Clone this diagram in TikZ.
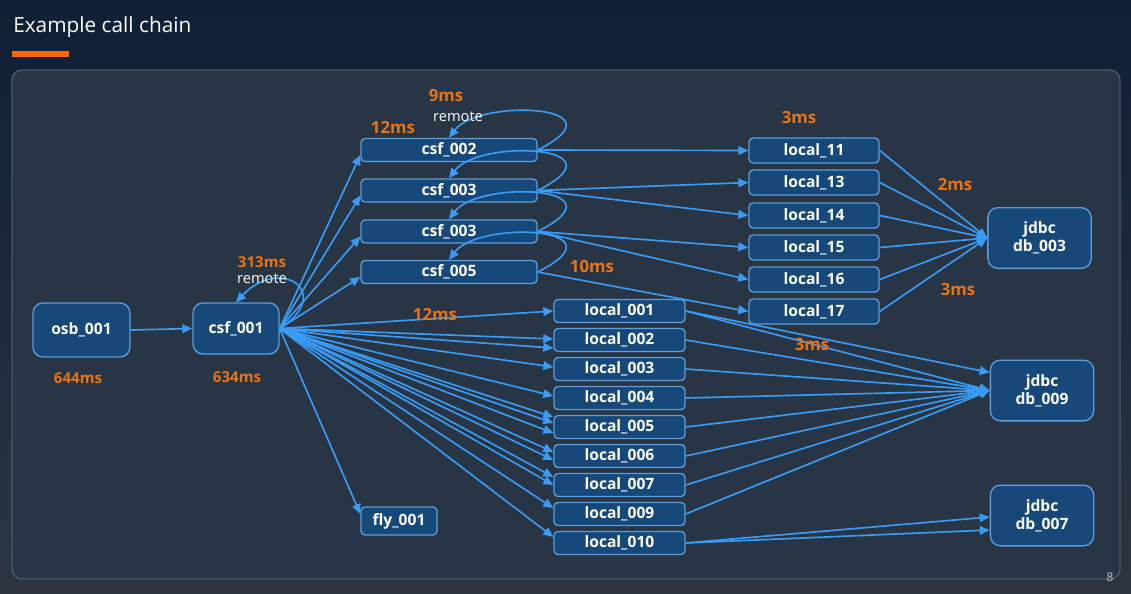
\documentclass[tikz,border=0pt]{standalone}
\usepackage{fontspec}
\setmainfont{Open Sans}
\usetikzlibrary{arrows.meta, calc, positioning}
\definecolor{bgtop}{RGB}{15,31,53}
\definecolor{bgbottom}{RGB}{44,53,65}
\definecolor{panelfill}{RGB}{39,53,69}
\definecolor{panelline}{RGB}{74,89,106}
\definecolor{boxfill}{RGB}{22,72,122}
\definecolor{boxline}{RGB}{94,158,218}
\definecolor{linkblue}{RGB}{58,155,245}
\definecolor{accentorange}{RGB}{236,115,17}
\definecolor{barorange}{RGB}{255,102,0}
\definecolor{pagegray}{RGB}{185,196,208}

\begin{document}
\begin{tikzpicture}[x=0.75pt, y=-0.75pt,
  svc/.style={draw=boxline, fill=boxfill, line width=1pt, rounded corners=3pt, text=white, inner sep=0pt, align=center, font=\fontsize{11.7}{13.8}\selectfont\bfseries},
  bigbox/.style={svc, rounded corners=7.5pt},
  csfbox/.style={svc, minimum width=132pt, minimum height=17.25pt},
  localbox/.style={svc, minimum width=98.25pt, minimum height=17.25pt},
  rightbox/.style={svc, minimum width=97.5pt, minimum height=18.75pt},
  dbbox/.style={bigbox, minimum width=77.5pt, minimum height=45.5pt},
  call/.style={linkblue, line width=1.25pt, -{Triangle[length=7.5pt, width=6.5pt]}},
  ms/.style={text=accentorange, font=\fontsize{12.6}{14}\selectfont\bfseries},
  mssmall/.style={text=accentorange, font=\fontsize{11.3}{13}\selectfont\bfseries},
  tag/.style={text=white, font=\fontsize{11}{13}\selectfont}
]
\useasboundingbox (0,0) rectangle (1131,593);

% Background and panel
\shade[top color=bgtop, bottom color=bgbottom] (0,0) rectangle (1131,593);
\draw[panelline, fill=panelfill, line width=1.1pt, rounded corners=7.5pt] (12,70) rectangle (1120,579);
\node[anchor=base west, text=white, inner sep=0pt, font=\fontsize{15.6}{18}\selectfont] (title) at (13,32) {Example call chain};
\fill[barorange] (12,51) rectangle (69,57);
\node[text=pagegray, inner sep=0pt, font=\fontsize{9}{10}\selectfont] (pagenum) at (1110,577) {8};

% Entry nodes
\node[bigbox, minimum width=72.75pt, minimum height=40.5pt] (osb) at (81.5,330) {osb\_001};
\node[bigbox, minimum width=64.5pt, minimum height=38.25pt] (csf1) at (236,328.5) {csf\_001};
\node[svc, minimum width=57pt, minimum height=21pt] (fly) at (399,521) {fly\_001};

% csf nodes
\foreach \name/\y/\lbl in {csf2/150/002, csf3a/190.5/003, csf3b/231.5/003, csf5/272/005}
  \node[csfbox] (\name) at (449,\y) {csf\_\lbl};

% local nodes
\foreach \n/\y in {001/311, 002/340, 003/369, 004/398, 005/427, 006/456, 007/485, 009/514, 010/543}
  \node[localbox] (l\n) at (619.5,\y) {local\_\n};
\foreach \n/\y in {11/150.5, 13/182.5, 14/215.5, 15/247.5, 16/279.5, 17/311.5}
  \node[rightbox] (r\n) at (814,\y) {local\_\n};

% jdbc nodes
\node[dbbox] (db3) at (1039.5,238) {jdbc\\db\_003};
\node[dbbox] (db9) at (1042,390.5) {jdbc\\db\_009};
\node[dbbox] (db7) at (1042,515.5) {jdbc\\db\_007};

% Calls from osb and csf_001
\draw[call] (osb.east) -- (csf1.west);
\draw[call] (csf1.east) .. controls +(56,-36) and +(44,-47) .. (csf1.north);
\foreach \c in {csf2, csf3a, csf3b, csf5}
  \draw[call] (csf1.east) -- ($(\c.west)+(0,5)$);
\draw[call] (csf1.east) -- ($(fly.west)+(0,-7)$);
\foreach \n/\dy in {001/0, 002/-1, 002/8, 003/-2, 004/-2, 005/-10, 005/-4, 005/6, 006/-4, 006/4, 007/-8, 007/0, 009/-6, 010/-6}
  \draw[call] (csf1.east) -- ($(l\n.west)+(0,\dy)$);

% remote loops on csf nodes
\foreach \c in {csf2, csf3a, csf3b, csf5}
  \draw[call] (\c.east) .. controls +(90,-45) and +(30,-40) .. (\c.north);

% csf to right locals
\draw[call] (csf2.east) -- (r11.west);
\draw[call] (csf3a.east) -- (r13.west);
\draw[call] (csf3a.east) -- (r14.west);
\draw[call] (csf3b.east) -- (r15.west);
\draw[call] (csf3b.east) -- (r16.west);
\draw[call] (csf5.east) -- (r17.west);

% locals to jdbc
\foreach \n in {11, 13, 14, 15, 16, 17}
  \draw[call] (r\n.east) -- (db3.west);
\foreach \n in {001, 002, 003, 004, 005, 006, 007, 009}
  \draw[call] (l\n.east) -- (db9.west);
\draw[call] (l001.east) -- ($(db9.west)+(0,-18)$);
\draw[call] (l010.east) -- ($(db7.west)+(0,1.5)$);
\draw[call] (l010.east) -- ($(db7.west)+(0,14.5)$);

% Labels
\node[ms] (t9) at (446,96) {9ms};
\node[tag] (rem2) at (458,117) {remote};
\node[ms] (t12a) at (393,127) {12ms};
\node[mssmall] (t313) at (262,262) {313ms};
\node[tag] (rem1) at (262,279) {remote};
\node[mssmall] (t644) at (78,378) {644ms};
\node[mssmall] (t634) at (237,377) {634ms};
\node[ms] (t12b) at (435,314) {12ms};
\node[ms] (t10) at (592,266) {10ms};
\node[ms] (t3a) at (799,117) {3ms};
\node[ms] (t2) at (955,184) {2ms};
\node[ms] (t3b) at (958,289) {3ms};
\node[ms] (t3c) at (812,344) {3ms};

\end{tikzpicture}
\end{document}
